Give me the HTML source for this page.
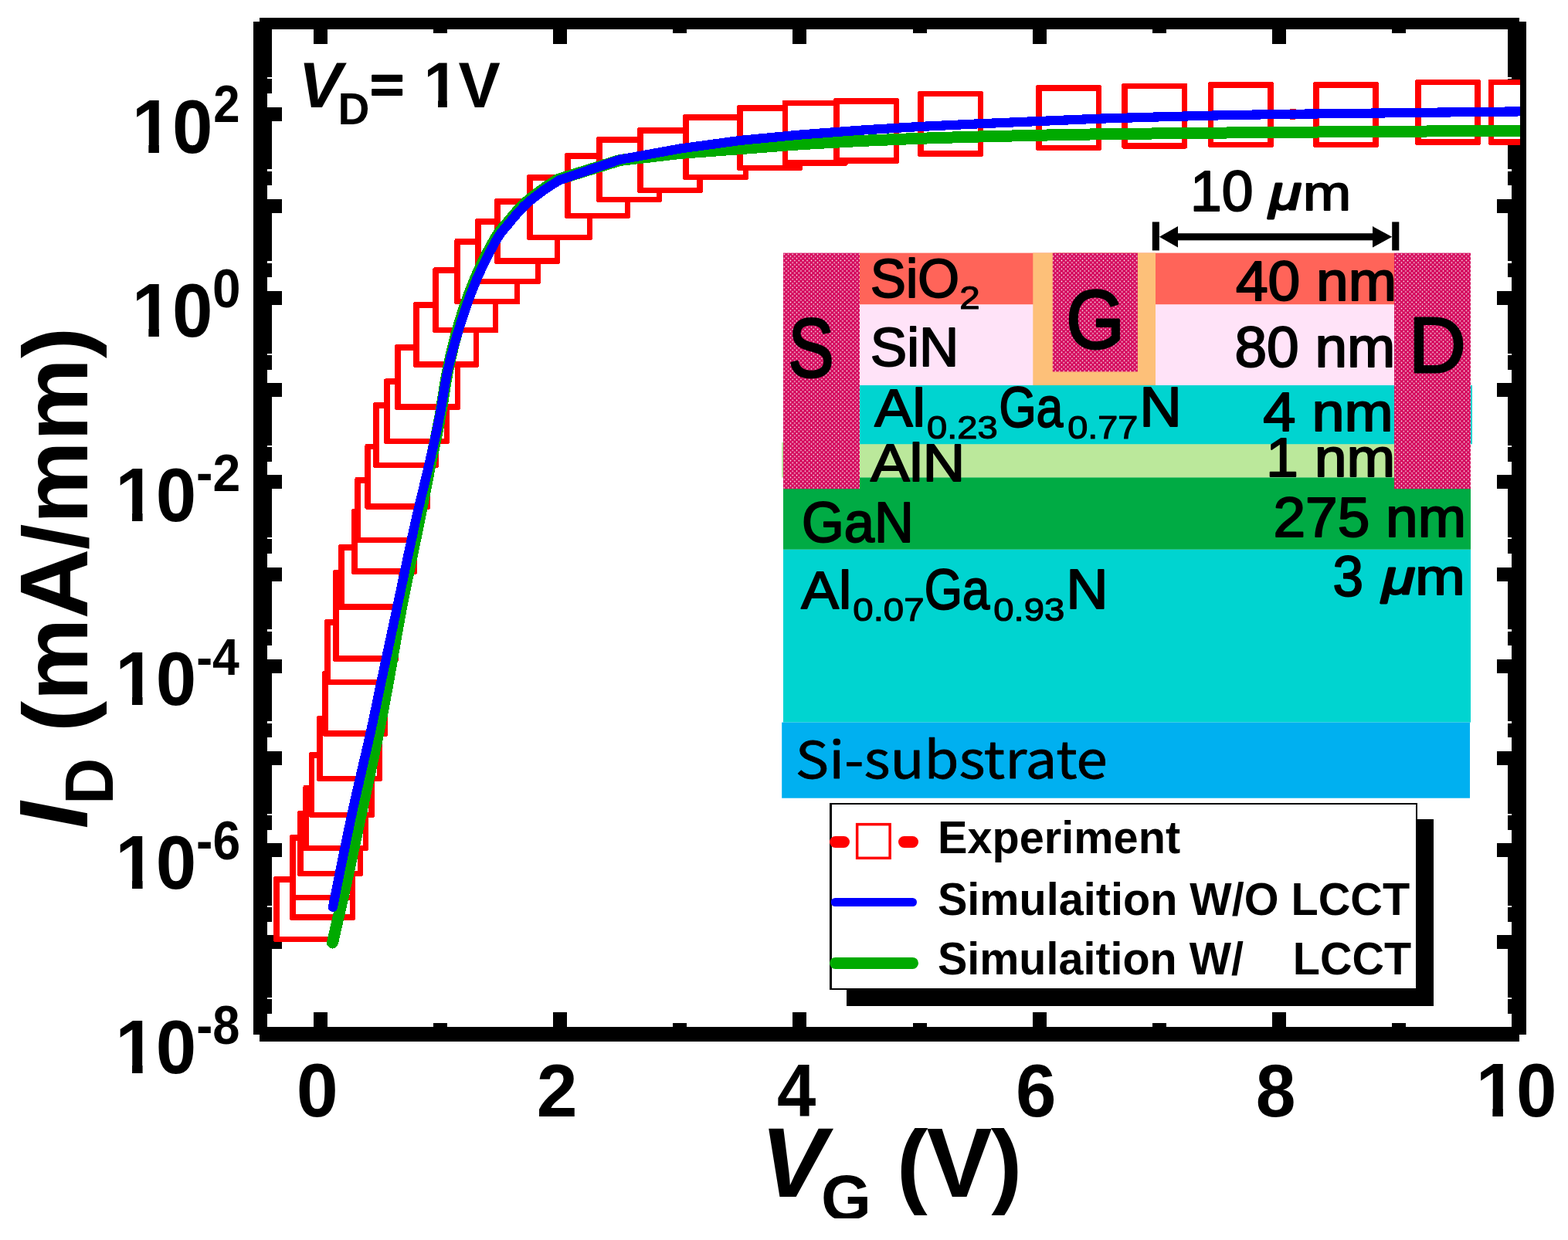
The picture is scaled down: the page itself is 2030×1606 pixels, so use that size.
<!DOCTYPE html>
<html lang="en">
<head>
<meta charset="utf-8">
<title>ID-VG transfer characteristics</title>
<style>
html,body{margin:0;padding:0;background:#fff;}
body{width:2030px;height:1606px;overflow:hidden;}
svg{display:block;}
text{fill:#000;white-space:pre;}
</style>
</head>
<body>
<svg width="2030" height="1606" viewBox="0 0 2030 1606">
<defs>
<pattern id="dots" width="5.4" height="5.4" patternUnits="userSpaceOnUse" x="1014" y="328">
<rect width="5.4" height="5.4" fill="#D4085C"/>
<circle cx="1.35" cy="1.35" r="0.8" fill="#fff"/>
<circle cx="4.05" cy="4.05" r="0.8" fill="#fff"/>
</pattern>
<clipPath id="plotclip"><rect x="337" y="28" width="1631" height="1312"/></clipPath>
<clipPath id="xtclipG"><rect x="900" y="1400" width="600" height="178"/></clipPath>
<clipPath id="xtclipP"><rect x="900" y="1400" width="600" height="174"/></clipPath>
<clipPath id="nofoot"><path d="M-50,-200H600V-10.55H-50Z M22.46,-11.15H36.43V50H22.46Z M56.11,-11.15H600V50H56.11Z M-50,-11.15H2.00V50H-50Z"/></clipPath>
<clipPath id="nofoot1v"><path d="M-50,-200H600V-8.87H-50Z M18.61,-9.47H30.32V50H18.61Z M44.04,-9.47H600V50H44.04Z M-50,-9.47H2.00V50H-50Z"/></clipPath>
</defs>
<rect width="2030" height="1606" fill="#fff"/>
<g id="axes" fill="#000" shape-rendering="crispEdges">
<rect x="336" y="23" width="1631" height="15"/>
<rect x="336" y="1330" width="1631" height="19"/>
<rect x="328" y="28" width="18" height="1311.5"/>
<rect x="1957" y="28" width="19" height="1311.5"/>
<rect x="406" y="37" width="18" height="20"/>
<rect x="406" y="1311" width="18" height="20"/>
<rect x="561.1" y="37" width="18" height="6"/>
<rect x="561.1" y="1325" width="18" height="6"/>
<rect x="716.2" y="37" width="18" height="20"/>
<rect x="716.2" y="1311" width="18" height="20"/>
<rect x="871.3" y="37" width="18" height="6"/>
<rect x="871.3" y="1325" width="18" height="6"/>
<rect x="1026.4" y="37" width="18" height="20"/>
<rect x="1026.4" y="1311" width="18" height="20"/>
<rect x="1181.5" y="37" width="18" height="6"/>
<rect x="1181.5" y="1325" width="18" height="6"/>
<rect x="1336.6" y="37" width="18" height="20"/>
<rect x="1336.6" y="1311" width="18" height="20"/>
<rect x="1491.7" y="37" width="18" height="6"/>
<rect x="1491.7" y="1325" width="18" height="6"/>
<rect x="1646.8" y="37" width="18" height="20"/>
<rect x="1646.8" y="1311" width="18" height="20"/>
<rect x="1801.9" y="37" width="18" height="6"/>
<rect x="1801.9" y="1325" width="18" height="6"/>
<rect x="345" y="1294.32" width="7" height="18.6"/>
<rect x="1952" y="1294.32" width="6" height="18.6"/>
<rect x="345" y="1273.33" width="7" height="18.6"/>
<rect x="1952" y="1273.33" width="6" height="18.6"/>
<rect x="345" y="1258.43" width="7" height="18.6"/>
<rect x="1952" y="1258.43" width="6" height="18.6"/>
<rect x="345" y="1246.88" width="7" height="18.6"/>
<rect x="1952" y="1246.88" width="6" height="18.6"/>
<rect x="345" y="1237.44" width="7" height="18.6"/>
<rect x="1952" y="1237.44" width="6" height="18.6"/>
<rect x="345" y="1229.46" width="7" height="18.6"/>
<rect x="1952" y="1229.46" width="6" height="18.6"/>
<rect x="345" y="1222.55" width="7" height="18.6"/>
<rect x="1952" y="1222.55" width="6" height="18.6"/>
<rect x="345" y="1216.45" width="7" height="18.6"/>
<rect x="1952" y="1216.45" width="6" height="18.6"/>
<rect x="345" y="1211.3" width="20" height="18"/>
<rect x="1938" y="1211.3" width="20" height="18"/>
<rect x="345" y="1175.12" width="7" height="18.6"/>
<rect x="1952" y="1175.12" width="6" height="18.6"/>
<rect x="345" y="1154.13" width="7" height="18.6"/>
<rect x="1952" y="1154.13" width="6" height="18.6"/>
<rect x="345" y="1139.23" width="7" height="18.6"/>
<rect x="1952" y="1139.23" width="6" height="18.6"/>
<rect x="345" y="1127.68" width="7" height="18.6"/>
<rect x="1952" y="1127.68" width="6" height="18.6"/>
<rect x="345" y="1118.24" width="7" height="18.6"/>
<rect x="1952" y="1118.24" width="6" height="18.6"/>
<rect x="345" y="1110.26" width="7" height="18.6"/>
<rect x="1952" y="1110.26" width="6" height="18.6"/>
<rect x="345" y="1103.35" width="7" height="18.6"/>
<rect x="1952" y="1103.35" width="6" height="18.6"/>
<rect x="345" y="1097.25" width="7" height="18.6"/>
<rect x="1952" y="1097.25" width="6" height="18.6"/>
<rect x="345" y="1092.1" width="20" height="18"/>
<rect x="1938" y="1092.1" width="20" height="18"/>
<rect x="345" y="1055.92" width="7" height="18.6"/>
<rect x="1952" y="1055.92" width="6" height="18.6"/>
<rect x="345" y="1034.93" width="7" height="18.6"/>
<rect x="1952" y="1034.93" width="6" height="18.6"/>
<rect x="345" y="1020.03" width="7" height="18.6"/>
<rect x="1952" y="1020.03" width="6" height="18.6"/>
<rect x="345" y="1008.48" width="7" height="18.6"/>
<rect x="1952" y="1008.48" width="6" height="18.6"/>
<rect x="345" y="999.04" width="7" height="18.6"/>
<rect x="1952" y="999.04" width="6" height="18.6"/>
<rect x="345" y="991.06" width="7" height="18.6"/>
<rect x="1952" y="991.06" width="6" height="18.6"/>
<rect x="345" y="984.15" width="7" height="18.6"/>
<rect x="1952" y="984.15" width="6" height="18.6"/>
<rect x="345" y="978.05" width="7" height="18.6"/>
<rect x="1952" y="978.05" width="6" height="18.6"/>
<rect x="345" y="972.9" width="20" height="18"/>
<rect x="1938" y="972.9" width="20" height="18"/>
<rect x="345" y="936.72" width="7" height="18.6"/>
<rect x="1952" y="936.72" width="6" height="18.6"/>
<rect x="345" y="915.73" width="7" height="18.6"/>
<rect x="1952" y="915.73" width="6" height="18.6"/>
<rect x="345" y="900.83" width="7" height="18.6"/>
<rect x="1952" y="900.83" width="6" height="18.6"/>
<rect x="345" y="889.28" width="7" height="18.6"/>
<rect x="1952" y="889.28" width="6" height="18.6"/>
<rect x="345" y="879.84" width="7" height="18.6"/>
<rect x="1952" y="879.84" width="6" height="18.6"/>
<rect x="345" y="871.86" width="7" height="18.6"/>
<rect x="1952" y="871.86" width="6" height="18.6"/>
<rect x="345" y="864.95" width="7" height="18.6"/>
<rect x="1952" y="864.95" width="6" height="18.6"/>
<rect x="345" y="858.85" width="7" height="18.6"/>
<rect x="1952" y="858.85" width="6" height="18.6"/>
<rect x="345" y="853.7" width="20" height="18"/>
<rect x="1938" y="853.7" width="20" height="18"/>
<rect x="345" y="817.52" width="7" height="18.6"/>
<rect x="1952" y="817.52" width="6" height="18.6"/>
<rect x="345" y="796.53" width="7" height="18.6"/>
<rect x="1952" y="796.53" width="6" height="18.6"/>
<rect x="345" y="781.63" width="7" height="18.6"/>
<rect x="1952" y="781.63" width="6" height="18.6"/>
<rect x="345" y="770.08" width="7" height="18.6"/>
<rect x="1952" y="770.08" width="6" height="18.6"/>
<rect x="345" y="760.64" width="7" height="18.6"/>
<rect x="1952" y="760.64" width="6" height="18.6"/>
<rect x="345" y="752.66" width="7" height="18.6"/>
<rect x="1952" y="752.66" width="6" height="18.6"/>
<rect x="345" y="745.75" width="7" height="18.6"/>
<rect x="1952" y="745.75" width="6" height="18.6"/>
<rect x="345" y="739.65" width="7" height="18.6"/>
<rect x="1952" y="739.65" width="6" height="18.6"/>
<rect x="345" y="734.5" width="20" height="18"/>
<rect x="1938" y="734.5" width="20" height="18"/>
<rect x="345" y="698.32" width="7" height="18.6"/>
<rect x="1952" y="698.32" width="6" height="18.6"/>
<rect x="345" y="677.33" width="7" height="18.6"/>
<rect x="1952" y="677.33" width="6" height="18.6"/>
<rect x="345" y="662.43" width="7" height="18.6"/>
<rect x="1952" y="662.43" width="6" height="18.6"/>
<rect x="345" y="650.88" width="7" height="18.6"/>
<rect x="1952" y="650.88" width="6" height="18.6"/>
<rect x="345" y="641.44" width="7" height="18.6"/>
<rect x="1952" y="641.44" width="6" height="18.6"/>
<rect x="345" y="633.46" width="7" height="18.6"/>
<rect x="1952" y="633.46" width="6" height="18.6"/>
<rect x="345" y="626.55" width="7" height="18.6"/>
<rect x="1952" y="626.55" width="6" height="18.6"/>
<rect x="345" y="620.45" width="7" height="18.6"/>
<rect x="1952" y="620.45" width="6" height="18.6"/>
<rect x="345" y="615.3" width="20" height="18"/>
<rect x="1938" y="615.3" width="20" height="18"/>
<rect x="345" y="579.12" width="7" height="18.6"/>
<rect x="1952" y="579.12" width="6" height="18.6"/>
<rect x="345" y="558.13" width="7" height="18.6"/>
<rect x="1952" y="558.13" width="6" height="18.6"/>
<rect x="345" y="543.23" width="7" height="18.6"/>
<rect x="1952" y="543.23" width="6" height="18.6"/>
<rect x="345" y="531.68" width="7" height="18.6"/>
<rect x="1952" y="531.68" width="6" height="18.6"/>
<rect x="345" y="522.24" width="7" height="18.6"/>
<rect x="1952" y="522.24" width="6" height="18.6"/>
<rect x="345" y="514.26" width="7" height="18.6"/>
<rect x="1952" y="514.26" width="6" height="18.6"/>
<rect x="345" y="507.35" width="7" height="18.6"/>
<rect x="1952" y="507.35" width="6" height="18.6"/>
<rect x="345" y="501.25" width="7" height="18.6"/>
<rect x="1952" y="501.25" width="6" height="18.6"/>
<rect x="345" y="496.1" width="20" height="18"/>
<rect x="1938" y="496.1" width="20" height="18"/>
<rect x="345" y="459.92" width="7" height="18.6"/>
<rect x="1952" y="459.92" width="6" height="18.6"/>
<rect x="345" y="438.93" width="7" height="18.6"/>
<rect x="1952" y="438.93" width="6" height="18.6"/>
<rect x="345" y="424.03" width="7" height="18.6"/>
<rect x="1952" y="424.03" width="6" height="18.6"/>
<rect x="345" y="412.48" width="7" height="18.6"/>
<rect x="1952" y="412.48" width="6" height="18.6"/>
<rect x="345" y="403.04" width="7" height="18.6"/>
<rect x="1952" y="403.04" width="6" height="18.6"/>
<rect x="345" y="395.06" width="7" height="18.6"/>
<rect x="1952" y="395.06" width="6" height="18.6"/>
<rect x="345" y="388.15" width="7" height="18.6"/>
<rect x="1952" y="388.15" width="6" height="18.6"/>
<rect x="345" y="382.05" width="7" height="18.6"/>
<rect x="1952" y="382.05" width="6" height="18.6"/>
<rect x="345" y="376.9" width="20" height="18"/>
<rect x="1938" y="376.9" width="20" height="18"/>
<rect x="345" y="340.72" width="7" height="18.6"/>
<rect x="1952" y="340.72" width="6" height="18.6"/>
<rect x="345" y="319.73" width="7" height="18.6"/>
<rect x="1952" y="319.73" width="6" height="18.6"/>
<rect x="345" y="304.83" width="7" height="18.6"/>
<rect x="1952" y="304.83" width="6" height="18.6"/>
<rect x="345" y="293.28" width="7" height="18.6"/>
<rect x="1952" y="293.28" width="6" height="18.6"/>
<rect x="345" y="283.84" width="7" height="18.6"/>
<rect x="1952" y="283.84" width="6" height="18.6"/>
<rect x="345" y="275.86" width="7" height="18.6"/>
<rect x="1952" y="275.86" width="6" height="18.6"/>
<rect x="345" y="268.95" width="7" height="18.6"/>
<rect x="1952" y="268.95" width="6" height="18.6"/>
<rect x="345" y="262.85" width="7" height="18.6"/>
<rect x="1952" y="262.85" width="6" height="18.6"/>
<rect x="345" y="257.7" width="20" height="18"/>
<rect x="1938" y="257.7" width="20" height="18"/>
<rect x="345" y="221.52" width="7" height="18.6"/>
<rect x="1952" y="221.52" width="6" height="18.6"/>
<rect x="345" y="200.53" width="7" height="18.6"/>
<rect x="1952" y="200.53" width="6" height="18.6"/>
<rect x="345" y="185.63" width="7" height="18.6"/>
<rect x="1952" y="185.63" width="6" height="18.6"/>
<rect x="345" y="174.08" width="7" height="18.6"/>
<rect x="1952" y="174.08" width="6" height="18.6"/>
<rect x="345" y="164.64" width="7" height="18.6"/>
<rect x="1952" y="164.64" width="6" height="18.6"/>
<rect x="345" y="156.66" width="7" height="18.6"/>
<rect x="1952" y="156.66" width="6" height="18.6"/>
<rect x="345" y="149.75" width="7" height="18.6"/>
<rect x="1952" y="149.75" width="6" height="18.6"/>
<rect x="345" y="143.65" width="7" height="18.6"/>
<rect x="1952" y="143.65" width="6" height="18.6"/>
<rect x="345" y="138.5" width="20" height="18"/>
<rect x="1938" y="138.5" width="20" height="18"/>
<rect x="345" y="102.32" width="7" height="18.6"/>
<rect x="1952" y="102.32" width="6" height="18.6"/>
<rect x="345" y="81.33" width="7" height="18.6"/>
<rect x="1952" y="81.33" width="6" height="18.6"/>
<rect x="345" y="66.43" width="7" height="18.6"/>
<rect x="1952" y="66.43" width="6" height="18.6"/>
<rect x="345" y="54.88" width="7" height="18.6"/>
<rect x="1952" y="54.88" width="6" height="18.6"/>
<rect x="345" y="45.44" width="7" height="18.6"/>
<rect x="1952" y="45.44" width="6" height="18.6"/>
<rect x="345" y="37.46" width="7" height="18.6"/>
<rect x="1952" y="37.46" width="6" height="18.6"/>
<rect x="345" y="30.55" width="7" height="18.6"/>
<rect x="1952" y="30.55" width="6" height="18.6"/>
<rect x="345" y="28" width="7" height="15.05"/>
<rect x="1952" y="28" width="6" height="15.05"/>
</g>
<g id="data" clip-path="url(#plotclip)" shape-rendering="crispEdges">
<g id="experiment" fill="#fff">
<rect x="354.1" y="1135.3" width="84.9" height="84.9" rx="2.5" fill="#f00"/><rect x="361.6" y="1142.8" width="69.9" height="69.9"/>
<rect x="375.2" y="1106.9" width="84.9" height="84.9" rx="2.5" fill="#f00"/><rect x="382.7" y="1114.4" width="69.9" height="69.9"/>
<rect x="375.2" y="1081.1" width="84.9" height="84.9" rx="2.5" fill="#f00"/><rect x="382.7" y="1088.6" width="69.9" height="69.9"/>
<rect x="385.3" y="1050.1" width="84.9" height="84.9" rx="2.5" fill="#f00"/><rect x="392.8" y="1057.6" width="69.9" height="69.9"/>
<rect x="392.4" y="1017.1" width="84.9" height="84.9" rx="2.5" fill="#f00"/><rect x="399.9" y="1024.6" width="69.9" height="69.9"/>
<rect x="399.9" y="974.1" width="84.9" height="84.9" rx="2.5" fill="#f00"/><rect x="407.4" y="981.6" width="69.9" height="69.9"/>
<rect x="410.1" y="927.3" width="84.9" height="84.9" rx="2.5" fill="#f00"/><rect x="417.6" y="934.8" width="69.9" height="69.9"/>
<rect x="417.2" y="868.8" width="84.9" height="84.9" rx="2.5" fill="#f00"/><rect x="424.7" y="876.3" width="69.9" height="69.9"/>
<rect x="420.2" y="802.2" width="84.9" height="84.9" rx="2.5" fill="#f00"/><rect x="427.7" y="809.7" width="69.9" height="69.9"/>
<rect x="431.2" y="738.1" width="84.9" height="84.9" rx="2.5" fill="#f00"/><rect x="438.7" y="745.6" width="69.9" height="69.9"/>
<rect x="431.2" y="772" width="84.9" height="84.9" rx="2.5" fill="#f00"/><rect x="438.7" y="779.5" width="69.9" height="69.9"/>
<rect x="438.1" y="705" width="84.9" height="84.9" rx="2.5" fill="#f00"/><rect x="445.6" y="712.5" width="69.9" height="69.9"/>
<rect x="455" y="658.9" width="84.9" height="84.9" rx="2.5" fill="#f00"/><rect x="462.5" y="666.4" width="69.9" height="69.9"/>
<rect x="459.3" y="618.2" width="84.9" height="84.9" rx="2.5" fill="#f00"/><rect x="466.8" y="625.7" width="69.9" height="69.9"/>
<rect x="472.4" y="574.8" width="84.9" height="84.9" rx="2.5" fill="#f00"/><rect x="479.9" y="582.3" width="69.9" height="69.9"/>
<rect x="483" y="521.2" width="84.9" height="84.9" rx="2.5" fill="#f00"/><rect x="490.5" y="528.7" width="69.9" height="69.9"/>
<rect x="497.1" y="490.4" width="84.9" height="84.9" rx="2.5" fill="#f00"/><rect x="504.6" y="497.9" width="69.9" height="69.9"/>
<rect x="511.1" y="446" width="84.9" height="84.9" rx="2.5" fill="#f00"/><rect x="518.6" y="453.5" width="69.9" height="69.9"/>
<rect x="535.3" y="391" width="84.9" height="84.9" rx="2.5" fill="#f00"/><rect x="542.8" y="398.5" width="69.9" height="69.9"/>
<rect x="560.2" y="346.4" width="84.9" height="84.9" rx="2.5" fill="#f00"/><rect x="567.7" y="353.9" width="69.9" height="69.9"/>
<rect x="588.3" y="309.2" width="84.9" height="84.9" rx="2.5" fill="#f00"/><rect x="595.8" y="316.7" width="69.9" height="69.9"/>
<rect x="615.2" y="283.1" width="84.9" height="84.9" rx="2.5" fill="#f00"/><rect x="622.7" y="290.6" width="69.9" height="69.9"/>
<rect x="640.1" y="257" width="84.9" height="84.9" rx="2.5" fill="#f00"/><rect x="647.6" y="264.5" width="69.9" height="69.9"/>
<rect x="682.2" y="226.2" width="84.9" height="84.9" rx="2.5" fill="#f00"/><rect x="689.7" y="233.7" width="69.9" height="69.9"/>
<rect x="731.1" y="198.2" width="84.9" height="84.9" rx="2.5" fill="#f00"/><rect x="738.6" y="205.7" width="69.9" height="69.9"/>
<rect x="772.1" y="177.1" width="84.9" height="84.9" rx="2.5" fill="#f00"/><rect x="779.6" y="184.6" width="69.9" height="69.9"/>
<rect x="825" y="165.2" width="84.9" height="84.9" rx="2.5" fill="#f00"/><rect x="832.5" y="172.7" width="69.9" height="69.9"/>
<rect x="884.1" y="148.1" width="84.9" height="84.9" rx="2.5" fill="#f00"/><rect x="891.6" y="155.6" width="69.9" height="69.9"/>
<rect x="954.1" y="136.2" width="84.9" height="84.9" rx="2.5" fill="#f00"/><rect x="961.6" y="143.7" width="69.9" height="69.9"/>
<rect x="1012.9" y="129.7" width="84.9" height="84.9" rx="2.5" fill="#f00"/><rect x="1020.4" y="137.2" width="69.9" height="69.9"/>
<rect x="1079.2" y="127" width="84.9" height="84.9" rx="2.5" fill="#f00"/><rect x="1086.7" y="134.5" width="69.9" height="69.9"/>
<rect x="1188.1" y="117.9" width="84.9" height="84.9" rx="2.5" fill="#f00"/><rect x="1195.6" y="125.4" width="69.9" height="69.9"/>
<rect x="1341.1" y="110.1" width="84.9" height="84.9" rx="2.5" fill="#f00"/><rect x="1348.6" y="117.6" width="69.9" height="69.9"/>
<rect x="1452.2" y="107.7" width="84.9" height="84.9" rx="2.5" fill="#f00"/><rect x="1459.7" y="115.2" width="69.9" height="69.9"/>
<rect x="1563.8" y="106.1" width="84.9" height="84.9" rx="2.5" fill="#f00"/><rect x="1571.3" y="113.6" width="69.9" height="69.9"/>
<rect x="1700" y="106.1" width="84.9" height="84.9" rx="2.5" fill="#f00"/><rect x="1707.5" y="113.6" width="69.9" height="69.9"/>
<rect x="1832" y="102.8" width="84.9" height="84.9" rx="2.5" fill="#f00"/><rect x="1839.5" y="110.3" width="69.9" height="69.9"/>
<rect x="1926.9" y="102.8" width="84.9" height="84.9" rx="2.5" fill="#f00"/><rect x="1934.4" y="110.3" width="69.9" height="69.9"/>
</g>
<circle cx="1674" cy="148" r="7.5" fill="#f00"/>
<path id="sim-with-lcct" d="M430.5,1221 L431.98,1214.49 L433.96,1205.82 L436.33,1195.5 L438.94,1184.04 L441.7,1171.93 L444.48,1159.68 L447.15,1147.8 L449.6,1136.8 L451.85,1126.58 L454.01,1116.63 L456.13,1106.81 L458.24,1096.97 L460.38,1086.98 L462.58,1076.68 L464.87,1065.93 L467.3,1054.6 L469.94,1042.32 L472.81,1029.09 L475.8,1015.25 L478.84,1001.19 L481.83,987.27 L484.7,973.86 L487.35,961.31 L489.7,950 L491.68,940.27 L493.35,931.91 L494.8,924.48 L496.12,917.52 L497.41,910.59 L498.76,903.24 L500.26,895.03 L502,885.5 L503.95,874.65 L506.02,862.92 L508.18,850.49 L510.43,837.56 L512.74,824.31 L515.12,810.94 L517.54,797.64 L520,784.6 L522.57,771.49 L525.29,757.97 L528.11,744.27 L530.97,730.57 L533.8,717.09 L536.54,704.03 L539.12,691.6 L541.5,680 L543.66,669.27 L545.66,659.23 L547.52,649.75 L549.29,640.72 L550.99,632.04 L552.66,623.56 L554.32,615.19 L556,606.8 L557.69,598.58 L559.35,590.72 L560.97,583.11 L562.58,575.64 L564.16,568.2 L565.72,560.69 L567.26,552.99 L568.8,545 L570.29,536.65 L571.72,528.03 L573.12,519.23 L574.51,510.36 L575.91,501.5 L577.36,492.75 L578.88,484.22 L580.5,476 L582.19,468.08 L583.92,460.38 L585.69,452.84 L587.53,445.44 L589.42,438.14 L591.39,430.91 L593.45,423.71 L595.6,416.5 L597.84,409.29 L600.16,402.11 L602.56,394.98 L605.04,387.91 L607.59,380.91 L610.22,374 L612.92,367.19 L615.7,360.5 L618.63,353.78 L621.75,346.96 L625,340.15 L628.29,333.47 L631.57,327.05 L634.76,321 L637.79,315.44 L640.6,310.5 L643.15,306.28 L645.5,302.73 L647.71,299.68 L649.82,297 L651.89,294.54 L653.98,292.15 L656.13,289.68 L658.4,287 L660.78,284.14 L663.2,281.26 L665.67,278.39 L668.16,275.55 L670.67,272.77 L673.19,270.06 L675.7,267.47 L678.2,265 L680.69,262.67 L683.19,260.46 L685.69,258.34 L688.2,256.31 L690.71,254.35 L693.21,252.44 L695.71,250.56 L698.2,248.7 L700.78,246.82 L703.48,244.91 L706.22,243.03 L708.94,241.2 L711.56,239.47 L713.99,237.89 L716.16,236.48 L718,235.3 L719.49,234.36 L720.71,233.65 L721.7,233.11 L722.49,232.71 L723.12,232.42 L723.64,232.2 L724.09,232 L724.5,231.8 L802.5,207.5 L880,198.5 L957.5,192.7 L1035,186.8 L1112.5,182.5 L1190,179.3 L1267.5,177 L1345,175.2 L1422.5,173.8 L1500,172.9 L1577.5,172.1 L1655,171.4 L1732.5,170.8 L1810,170.2 L1887.5,169.8 L1975,169.3" fill="none" stroke="#00AA00" stroke-width="15" stroke-linecap="round" stroke-linejoin="round"/>
<path id="sim-without-lcct" d="M430.9,1175 L432.8,1165.6 L435.34,1153 L438.35,1137.97 L441.71,1121.34 L445.25,1103.88 L448.82,1086.41 L452.29,1069.72 L455.5,1054.6 L458.59,1040.49 L461.77,1026.4 L464.97,1012.46 L468.14,998.81 L471.22,985.59 L474.17,972.96 L476.91,961.05 L479.4,950 L481.54,940.27 L483.34,931.91 L484.91,924.48 L486.35,917.52 L487.77,910.59 L489.29,903.24 L490.99,895.03 L493,885.5 L495.3,874.65 L497.8,862.92 L500.44,850.49 L503.2,837.56 L506.02,824.31 L508.88,810.94 L511.72,797.64 L514.5,784.6 L517.29,771.49 L520.16,757.97 L523.06,744.27 L525.96,730.57 L528.83,717.09 L531.64,704.03 L534.34,691.6 L536.9,680 L539.33,669.27 L541.67,659.23 L543.91,649.75 L546.09,640.72 L548.19,632.04 L550.24,623.56 L552.24,615.19 L554.2,606.8 L556.1,598.58 L557.93,590.72 L559.69,583.11 L561.4,575.64 L563.07,568.2 L564.72,560.69 L566.36,552.99 L568,545 L569.6,536.65 L571.12,528.03 L572.6,519.23 L574.07,510.36 L575.56,501.5 L577.11,492.75 L578.75,484.22 L580.5,476 L582.36,468.08 L584.3,460.35 L586.31,452.79 L588.38,445.36 L590.51,438.05 L592.69,430.82 L594.93,423.65 L597.2,416.5 L599.51,409.39 L601.85,402.35 L604.24,395.39 L606.69,388.49 L609.2,381.68 L611.78,374.94 L614.44,368.28 L617.2,361.7 L620.13,355.06 L623.25,348.28 L626.5,341.5 L629.8,334.84 L633.08,328.43 L636.27,322.38 L639.3,316.83 L642.1,311.9 L644.63,307.7 L646.96,304.15 L649.14,301.1 L651.23,298.42 L653.27,295.96 L655.32,293.57 L657.45,291.1 L659.7,288.4 L662.06,285.52 L664.48,282.62 L666.93,279.72 L669.42,276.84 L671.92,274.03 L674.43,271.3 L676.92,268.68 L679.4,266.2 L681.86,263.87 L684.32,261.66 L686.79,259.56 L689.25,257.54 L691.71,255.6 L694.17,253.71 L696.64,251.85 L699.1,250 L701.65,248.13 L704.34,246.25 L707.08,244.38 L709.79,242.57 L712.4,240.86 L714.82,239.28 L716.98,237.88 L718.8,236.7 L720.26,235.75 L721.44,235.01 L722.39,234.45 L723.13,234.02 L723.72,233.69 L724.2,233.44 L724.61,233.22 L725,233 L802.5,206.7 L880,192.6 L957.5,182 L1035,174.6 L1112.5,168.8 L1190,164 L1267.5,160.3 L1345,157 L1422.5,153.7 L1500,151.4 L1577.5,149.4 L1655,148 L1732.5,147.1 L1810,146.2 L1887.5,145.3 L1975,144.3" fill="none" stroke="#0000ff" stroke-width="12.2" stroke-linecap="round" stroke-linejoin="round"/>
</g>
<g id="inset">
<rect x="1012.2" y="572.9" width="792.8" height="45.5" fill="#BBE89B"/>
<rect x="1113" y="499" width="793" height="76.2" fill="#00D4D0"/>
<rect x="1014" y="618.4" width="890" height="93.4" fill="#00AB44"/>
<rect x="1014" y="711.8" width="890" height="223.8" fill="#00D4D0"/>
<rect x="1012.2" y="935.6" width="890.8" height="98.1" fill="#00B0F0"/>
<rect x="1113" y="327.6" width="692" height="66.9" fill="#FF6459"/>
<rect x="1113" y="394.5" width="692" height="104.5" fill="#FFE3F8"/>
<rect x="1337.3" y="327.6" width="158.7" height="171.4" fill="#FDC079"/>
<rect x="1014" y="327.6" width="99" height="305.6" fill="url(#dots)"/>
<rect x="1805" y="327.6" width="99" height="305.6" fill="url(#dots)"/>
<rect x="1362.8" y="327.6" width="110.1" height="153.8" fill="url(#dots)"/>
<g fill="#000"><rect x="1491.8" y="287.4" width="9.1" height="37"/><rect x="1802.2" y="287.4" width="9.1" height="37"/><rect x="1512" y="302.2" width="278" height="9.1"/><polygon points="1500.9,306.8 1525,293.1 1525,320.6"/><polygon points="1802.2,306.8 1777,293.1 1777,320.6"/></g>
</g>
<g id="legend">
<g shape-rendering="crispEdges"><rect x="1096" y="1061" width="760" height="241.6" fill="#000"/>
<rect x="1074" y="1040" width="761" height="241.5" fill="#000"/><rect x="1076.5" y="1042" width="756.5" height="237.7" fill="#fff"/></g>
<g fill="none" stroke-linecap="round">
<line x1="1081.5" y1="1090.5" x2="1092.5" y2="1090.5" stroke="#f00" stroke-width="15"/>
<line x1="1170.5" y1="1090.5" x2="1181.5" y2="1090.5" stroke="#f00" stroke-width="15"/>
<line x1="1081.2" y1="1168.5" x2="1181.5" y2="1168.5" stroke="#00f" stroke-width="11"/>
<line x1="1081.5" y1="1247.4" x2="1181.5" y2="1247.4" stroke="#00AA00" stroke-width="15"/>
<rect x="1109.65" y="1067.65" width="42.5" height="43.7" fill="#fff" stroke="#f00" stroke-width="3.5" stroke-linecap="butt"/>
</g>
</g>
<g id="labels">
<text transform="matrix(0.9957 0 0 1.0043 383.72 1446.20)" font-family="&quot;Liberation Sans&quot;, sans-serif" font-size="97.5" font-weight="bold" xml:space="preserve">0</text>
<text transform="matrix(0.9745 0 0 0.9812 694.68 1445.70)" font-family="&quot;Liberation Sans&quot;, sans-serif" font-size="97.5" font-weight="bold" xml:space="preserve">2</text>
<text transform="matrix(0.9283 0 0 0.9838 1005.97 1445.50)" font-family="&quot;Liberation Sans&quot;, sans-serif" font-size="97.5" font-weight="bold" xml:space="preserve">4</text>
<text transform="matrix(0.9681 0 0 0.9900 1315.03 1445.91)" font-family="&quot;Liberation Sans&quot;, sans-serif" font-size="97.5" font-weight="bold" xml:space="preserve">6</text>
<text transform="matrix(0.9542 0 0 0.9886 1625.84 1446.01)" font-family="&quot;Liberation Sans&quot;, sans-serif" font-size="97.5" font-weight="bold" xml:space="preserve">8</text>
<text transform="matrix(0.9680 0 0 1.0029 1910.63 1446.00)" font-family="&quot;Liberation Sans&quot;, sans-serif" font-size="97.5" font-weight="bold" clip-path="url(#nofoot)" xml:space="preserve">1<tspan dx="-0.1">0</tspan></text>
<text transform="matrix(0.9680 0 0 1.0000 170.63 197.70)" font-family="&quot;Liberation Sans&quot;, sans-serif" font-size="97.5" font-weight="bold" clip-path="url(#nofoot)" xml:space="preserve">1<tspan dx="-0.1">0</tspan></text>
<text transform="matrix(0.9212 0 0 1.0261 276.16 158.00)" font-family="&quot;Liberation Sans&quot;, sans-serif" font-size="67" font-weight="bold" xml:space="preserve">2</text>
<text transform="matrix(0.9680 0 0 1.0000 170.63 436.10)" font-family="&quot;Liberation Sans&quot;, sans-serif" font-size="97.5" font-weight="bold" clip-path="url(#nofoot)" xml:space="preserve">1<tspan dx="-0.1">0</tspan></text>
<text transform="matrix(0.9806 0 0 1.0457 275.06 398.00)" font-family="&quot;Liberation Sans&quot;, sans-serif" font-size="67" font-weight="bold" xml:space="preserve">0</text>
<text transform="matrix(0.9680 0 0 1.0000 149.33 674.50)" font-family="&quot;Liberation Sans&quot;, sans-serif" font-size="97.5" font-weight="bold" clip-path="url(#nofoot)" xml:space="preserve">1<tspan dx="-0.1">0</tspan></text>
<text transform="matrix(0.9593 0 0 1.0283 254.12 636.10)" font-family="&quot;Liberation Sans&quot;, sans-serif" font-size="67" font-weight="bold" xml:space="preserve">-2</text>
<text transform="matrix(0.9680 0 0 1.0000 149.33 912.90)" font-family="&quot;Liberation Sans&quot;, sans-serif" font-size="97.5" font-weight="bold" clip-path="url(#nofoot)" xml:space="preserve">1<tspan dx="-0.1">0</tspan></text>
<text transform="matrix(0.9339 0 0 1.0065 254.20 874.20)" font-family="&quot;Liberation Sans&quot;, sans-serif" font-size="67" font-weight="bold" xml:space="preserve">-4</text>
<text transform="matrix(0.9680 0 0 1.0000 149.33 1151.30)" font-family="&quot;Liberation Sans&quot;, sans-serif" font-size="97.5" font-weight="bold" clip-path="url(#nofoot)" xml:space="preserve">1<tspan dx="-0.1">0</tspan></text>
<text transform="matrix(0.9593 0 0 1.0391 254.12 1113.10)" font-family="&quot;Liberation Sans&quot;, sans-serif" font-size="67" font-weight="bold" xml:space="preserve">-6</text>
<text transform="matrix(0.9680 0 0 1.0000 149.33 1389.70)" font-family="&quot;Liberation Sans&quot;, sans-serif" font-size="97.5" font-weight="bold" clip-path="url(#nofoot)" xml:space="preserve">1<tspan dx="-0.1">0</tspan></text>
<text transform="matrix(0.9444 0 0 1.0457 254.27 1351.90)" font-family="&quot;Liberation Sans&quot;, sans-serif" font-size="67" font-weight="bold" xml:space="preserve">-8</text>
<text transform="matrix(1.0442 0 0 1.0357 386.59 139.00)" font-family="&quot;Liberation Sans&quot;, sans-serif" font-size="81" font-weight="bold" font-style="italic" xml:space="preserve">V</text>
<text transform="matrix(1.0118 0 0 1.0368 437.45 160.70)" font-family="&quot;Liberation Sans&quot;, sans-serif" font-size="56" font-weight="bold" xml:space="preserve">D</text>
<text transform="matrix(0.9349 0 0 0.8152 479.03 132.77)" font-family="&quot;Liberation Sans&quot;, sans-serif" font-size="81" font-weight="bold" stroke="#000" stroke-width="2.2" stroke-linejoin="round" xml:space="preserve">=</text>
<text transform="matrix(1.0043 0 0 1.0357 548.38 139.00)" font-family="&quot;Liberation Sans&quot;, sans-serif" font-size="81" font-weight="bold" clip-path="url(#nofoot1v)" xml:space="preserve">1V</text>
<text transform="matrix(0 -1.0265 1.0357 0 113.00 1073.55)" font-family="&quot;Liberation Sans&quot;, sans-serif" font-size="122" font-weight="bold" font-style="italic" xml:space="preserve">I</text>
<text transform="matrix(0 -0.9882 1.0491 0 146.00 1041.83)" font-family="&quot;Liberation Sans&quot;, sans-serif" font-size="84" font-weight="bold" xml:space="preserve">D</text>
<text transform="matrix(0 -0.9886 0.9746 0 112.64 947.93)" font-family="&quot;Liberation Sans&quot;, sans-serif" font-size="122" font-weight="bold" xml:space="preserve">(m<tspan font-size="127.5" dx="-1.2">A</tspan><tspan dx="-1.2">/mm)</tspan></text>
<text transform="matrix(1.0519 0 0 1.0452 984.38 1549.80)" font-family="&quot;Liberation Sans&quot;, sans-serif" font-size="122" font-weight="bold" font-style="italic" xml:space="preserve">V</text>
<g clip-path="url(#xtclipG)"><text transform="matrix(0.9947 0 0 0.9947 1062.92 1579.59)" font-family="&quot;Liberation Sans&quot;, sans-serif" font-size="84" font-weight="bold" xml:space="preserve">G</text></g>
<g clip-path="url(#xtclipP)"><text transform="matrix(1.0000 0 0 1.0000 1160.70 1549.80)" font-family="&quot;Liberation Sans&quot;, sans-serif" font-size="122" font-weight="bold" xml:space="preserve">(<tspan font-size="127.5" dx="-1.8">V</tspan><tspan dx="-1.8">)</tspan></text></g>
<text transform="matrix(1.0032 0 0 1.0360 1213.99 1105.20)" font-family="&quot;Liberation Sans&quot;, sans-serif" font-size="57.5" font-weight="bold" xml:space="preserve">Experiment</text>
<text transform="matrix(1.0020 0 0 1.0360 1213.90 1184.50)" font-family="&quot;Liberation Sans&quot;, sans-serif" font-size="57.5" font-weight="bold" xml:space="preserve">Simulaition W/O LCCT</text>
<text transform="matrix(1.0002 0 0 1.0360 1213.90 1262.10)" font-family="&quot;Liberation Sans&quot;, sans-serif" font-size="57.5" font-weight="bold" xml:space="preserve">Simulaition W/    LCCT</text>
<text transform="matrix(0.9215 0 0 0.9304 1126.86 385.17)" font-family="&quot;Liberation Sans&quot;, sans-serif" font-size="75" stroke="#000" stroke-width="2.1" stroke-linejoin="round" xml:space="preserve">SiO</text>
<text transform="matrix(1.0318 0 0 0.9324 1242.24 399.87)" font-family="&quot;Liberation Sans&quot;, sans-serif" font-size="46" stroke="#000" stroke-width="1.29" stroke-linejoin="round" xml:space="preserve">2</text>
<text transform="matrix(0.9465 0 0 0.9304 1126.81 473.57)" font-family="&quot;Liberation Sans&quot;, sans-serif" font-size="75" stroke="#000" stroke-width="2.1" stroke-linejoin="round" xml:space="preserve">SiN</text>
<text transform="matrix(0.8061 0 0 0.9712 1020.58 487.96)" font-family="&quot;Liberation Sans&quot;, sans-serif" font-size="110" stroke="#000" stroke-width="3.08" stroke-linejoin="round" xml:space="preserve">S</text>
<text transform="matrix(0.8840 0 0 0.9700 1380.16 450.56)" font-family="&quot;Liberation Sans&quot;, sans-serif" font-size="110" stroke="#000" stroke-width="3.08" stroke-linejoin="round" xml:space="preserve">G</text>
<text transform="matrix(0.9769 0 0 0.9680 1823.66 482.33)" font-family="&quot;Liberation Sans&quot;, sans-serif" font-size="105" stroke="#000" stroke-width="2.94" stroke-linejoin="round" xml:space="preserve">D</text>
<text transform="matrix(0.9859 0 0 0.9196 1132.19 552.18)" font-family="&quot;Liberation Sans&quot;, sans-serif" font-size="75" stroke="#000" stroke-width="2.1" stroke-linejoin="round" xml:space="preserve">Al</text>
<text transform="matrix(1.0459 0 0 0.9636 1200.05 567.84)" font-family="&quot;Liberation Sans&quot;, sans-serif" font-size="45" stroke="#000" stroke-width="1.26" stroke-linejoin="round" xml:space="preserve">0.23</text>
<text transform="matrix(0.8255 0 0 0.9963 1293.52 553.00)" font-family="&quot;Liberation Sans&quot;, sans-serif" font-size="75" stroke="#000" stroke-width="2.1" stroke-linejoin="round" xml:space="preserve">Ga</text>
<text transform="matrix(1.0424 0 0 0.9424 1382.16 567.86)" font-family="&quot;Liberation Sans&quot;, sans-serif" font-size="45" stroke="#000" stroke-width="1.26" stroke-linejoin="round" xml:space="preserve">0.77</text>
<text transform="matrix(1.0091 0 0 0.9717 1475.25 552.13)" font-family="&quot;Liberation Sans&quot;, sans-serif" font-size="75" stroke="#000" stroke-width="2.1" stroke-linejoin="round" xml:space="preserve">N</text>
<text transform="matrix(1.0137 0 0 0.9161 1126.91 622.98)" font-family="&quot;Liberation Sans&quot;, sans-serif" font-size="75" stroke="#000" stroke-width="2.1" stroke-linejoin="round" xml:space="preserve">AlN</text>
<text transform="matrix(0.9390 0 0 0.9852 1037.98 702.21)" font-family="&quot;Liberation Sans&quot;, sans-serif" font-size="75" stroke="#000" stroke-width="2.1" stroke-linejoin="round" xml:space="preserve">GaN</text>
<text transform="matrix(0.9734 0 0 0.9179 1037.27 787.68)" font-family="&quot;Liberation Sans&quot;, sans-serif" font-size="75" stroke="#000" stroke-width="2.1" stroke-linejoin="round" xml:space="preserve">Al</text>
<text transform="matrix(1.0529 0 0 0.9424 1104.35 803.56)" font-family="&quot;Liberation Sans&quot;, sans-serif" font-size="45" stroke="#000" stroke-width="1.26" stroke-linejoin="round" xml:space="preserve">0.07</text>
<text transform="matrix(0.8439 0 0 1.0000 1196.87 789.00)" font-family="&quot;Liberation Sans&quot;, sans-serif" font-size="75" stroke="#000" stroke-width="2.1" stroke-linejoin="round" xml:space="preserve">Ga</text>
<text transform="matrix(1.0506 0 0 0.9636 1286.25 804.24)" font-family="&quot;Liberation Sans&quot;, sans-serif" font-size="45" stroke="#000" stroke-width="1.26" stroke-linejoin="round" xml:space="preserve">0.93</text>
<text transform="matrix(1.0045 0 0 0.9698 1380.18 787.63)" font-family="&quot;Liberation Sans&quot;, sans-serif" font-size="75" stroke="#000" stroke-width="2.1" stroke-linejoin="round" xml:space="preserve">N</text>
<text transform="matrix(1.0096 0 0 0.9169 1029.87 1007.58)" font-family="&quot;Noto Sans CJK SC&quot;, sans-serif" font-size="72" stroke="#000" stroke-width="0.86" stroke-linejoin="round" xml:space="preserve">Si-substrate</text>
<text transform="matrix(0.9753 0 0 0.9815 1541.12 272.92)" font-family="&quot;Liberation Sans&quot;, sans-serif" font-size="75" stroke="#000" stroke-width="2.1" stroke-linejoin="round" xml:space="preserve">10</text>
<text transform="matrix(1.0091 0 0 0.8298 1643.33 270.92)" font-family="&quot;Liberation Sans&quot;, sans-serif" font-size="75" font-style="italic" stroke="#000" stroke-width="3.36" stroke-linejoin="round" xml:space="preserve">μ</text>
<text transform="matrix(1.0000 0 0 0.8732 1686.80 272.33)" font-family="&quot;Liberation Sans&quot;, sans-serif" font-size="75" stroke="#000" stroke-width="2.1" stroke-linejoin="round" xml:space="preserve">m</text>
<text transform="matrix(0.9985 0 0 0.9574 1599.90 389.14)" font-family="&quot;Liberation Sans&quot;, sans-serif" font-size="75" stroke="#000" stroke-width="2.1" stroke-linejoin="round" xml:space="preserve">40 nm</text>
<text transform="matrix(0.9975 0 0 0.9815 1598.40 474.92)" font-family="&quot;Liberation Sans&quot;, sans-serif" font-size="75" stroke="#000" stroke-width="2.1" stroke-linejoin="round" xml:space="preserve">80 nm</text>
<text transform="matrix(1.0099 0 0 0.9491 1635.29 558.35)" font-family="&quot;Liberation Sans&quot;, sans-serif" font-size="75" stroke="#000" stroke-width="2.1" stroke-linejoin="round" xml:space="preserve">4 nm</text>
<text transform="matrix(1.0038 0 0 0.9321 1638.98 616.87)" font-family="&quot;Liberation Sans&quot;, sans-serif" font-size="75" stroke="#000" stroke-width="2.1" stroke-linejoin="round" xml:space="preserve">1 nm</text>
<text transform="matrix(0.9975 0 0 0.9685 1648.51 694.53)" font-family="&quot;Liberation Sans&quot;, sans-serif" font-size="75" stroke="#000" stroke-width="2.1" stroke-linejoin="round" xml:space="preserve">275 nm</text>
<text transform="matrix(0.9486 0 0 0.9833 1725.50 771.82)" font-family="&quot;Liberation Sans&quot;, sans-serif" font-size="75" stroke="#000" stroke-width="2.1" stroke-linejoin="round" xml:space="preserve">3</text>
<text transform="matrix(1.0295 0 0 0.8351 1789.39 769.14)" font-family="&quot;Liberation Sans&quot;, sans-serif" font-size="75" font-style="italic" stroke="#000" stroke-width="3.36" stroke-linejoin="round" xml:space="preserve">μ</text>
<text transform="matrix(1.0382 0 0 0.8854 1832.05 770.31)" font-family="&quot;Liberation Sans&quot;, sans-serif" font-size="75" stroke="#000" stroke-width="2.1" stroke-linejoin="round" xml:space="preserve">m</text>
</g>
</svg>
</body>
</html>
